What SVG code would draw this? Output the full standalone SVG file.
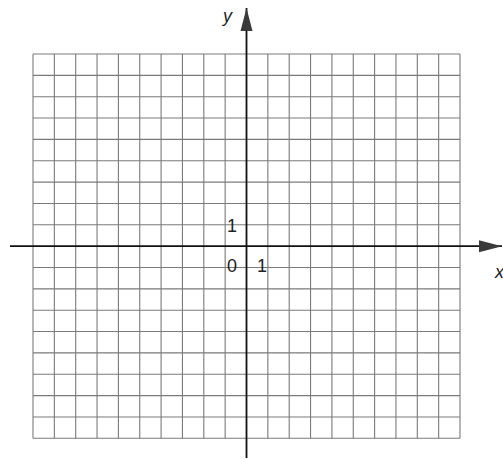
<svg xmlns="http://www.w3.org/2000/svg" width="503" height="460" viewBox="0 0 503 460">
<style>
.grid line{stroke:#7a7a7a;stroke-width:1.1}
.axis{stroke:#111;stroke-width:1.8}
.lbl{font-family:"Liberation Sans",Arial,sans-serif;font-size:18px;fill:#222}
.it{font-style:italic}
</style>
<defs>
<marker id="arr" markerWidth="24" markerHeight="13" refX="23" refY="6.5" orient="auto" markerUnits="userSpaceOnUse">
<path d="M0,0.5 L23,6.5 L0,12.5 Z" fill="#3a3a3a"/>
</marker>
</defs>
<rect width="503" height="460" fill="#fff"/>
<g id="grid" class="grid">
<line x1="33" y1="54" x2="33" y2="438.3"/>
<line x1="54.35" y1="54" x2="54.35" y2="438.3"/>
<line x1="75.7" y1="54" x2="75.7" y2="438.3"/>
<line x1="97.05" y1="54" x2="97.05" y2="438.3"/>
<line x1="118.4" y1="54" x2="118.4" y2="438.3"/>
<line x1="139.75" y1="54" x2="139.75" y2="438.3"/>
<line x1="161.1" y1="54" x2="161.1" y2="438.3"/>
<line x1="182.45" y1="54" x2="182.45" y2="438.3"/>
<line x1="203.8" y1="54" x2="203.8" y2="438.3"/>
<line x1="225.15" y1="54" x2="225.15" y2="438.3"/>
<line x1="267.85" y1="54" x2="267.85" y2="438.3"/>
<line x1="289.2" y1="54" x2="289.2" y2="438.3"/>
<line x1="310.55" y1="54" x2="310.55" y2="438.3"/>
<line x1="331.9" y1="54" x2="331.9" y2="438.3"/>
<line x1="353.25" y1="54" x2="353.25" y2="438.3"/>
<line x1="374.6" y1="54" x2="374.6" y2="438.3"/>
<line x1="395.95" y1="54" x2="395.95" y2="438.3"/>
<line x1="417.3" y1="54" x2="417.3" y2="438.3"/>
<line x1="438.65" y1="54" x2="438.65" y2="438.3"/>
<line x1="460" y1="54" x2="460" y2="438.3"/>
<line x1="33" y1="54" x2="460" y2="54"/>
<line x1="33" y1="75.35" x2="460" y2="75.35"/>
<line x1="33" y1="96.7" x2="460" y2="96.7"/>
<line x1="33" y1="118.05" x2="460" y2="118.05"/>
<line x1="33" y1="139.4" x2="460" y2="139.4"/>
<line x1="33" y1="160.75" x2="460" y2="160.75"/>
<line x1="33" y1="182.1" x2="460" y2="182.1"/>
<line x1="33" y1="203.45" x2="460" y2="203.45"/>
<line x1="33" y1="224.8" x2="460" y2="224.8"/>
<line x1="33" y1="267.5" x2="460" y2="267.5"/>
<line x1="33" y1="288.85" x2="460" y2="288.85"/>
<line x1="33" y1="310.2" x2="460" y2="310.2"/>
<line x1="33" y1="331.55" x2="460" y2="331.55"/>
<line x1="33" y1="352.9" x2="460" y2="352.9"/>
<line x1="33" y1="374.25" x2="460" y2="374.25"/>
<line x1="33" y1="395.6" x2="460" y2="395.6"/>
<line x1="33" y1="416.95" x2="460" y2="416.95"/>
<line x1="33" y1="438.3" x2="460" y2="438.3"/>
</g>
<g id="axes">
<line class="axis" x1="10" y1="246.2" x2="502" y2="246.2" marker-end="url(#arr)"/>
<line class="axis" x1="246.5" y1="458" x2="246.5" y2="8" marker-end="url(#arr)"/>
</g>
<g id="labels">
<text class="lbl it" x="223" y="22">y</text>
<text class="lbl it" x="495" y="278">x</text>
<text class="lbl" x="227" y="232">1</text>
<text class="lbl" x="227" y="272">0</text>
<text class="lbl" x="257" y="272">1</text>
</g>
</svg>
